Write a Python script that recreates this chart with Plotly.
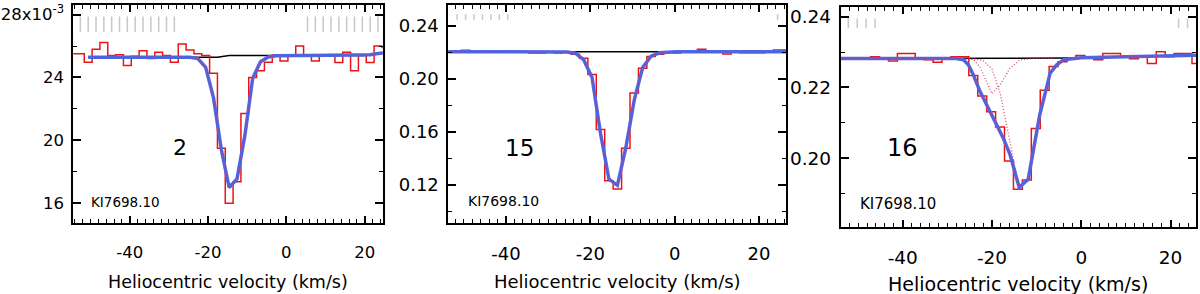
import plotly.graph_objects as go

# ---------------- data ----------------
# Panel 1 (flux in units of 1e-3)
p1_vel = [-54.6, -52.6, -50.6, -48.6, -46.6, -44.6, -42.6, -40.6, -38.6, -36.6,
          -34.6, -32.6, -30.6, -28.6, -26.6, -24.6, -22.6, -20.6, -18.6, -16.6,
          -14.6, -12.6, -10.6, -8.6, -6.6, -4.6, -2.6, -0.6, 1.4, 3.4,
          5.4, 7.4, 9.4, 11.4, 13.4, 15.4, 17.4, 19.4, 21.4, 23.4, 25.4]
p1_flux = [25.5, 25.5, 24.97, 25.8, 26.23, 25.39, 25.45, 24.76, 25.35, 25.7,
           25.2, 25.6, 25.4, 24.97, 26.13, 25.75, 25.5, 25.4, 24.27, 19.5,
           16.0, 17.37, 21.7, 24.0, 24.42, 24.97, 25.45, 25.05, 25.4, 26.0,
           25.4, 25.05, 25.4, 25.4, 24.95, 25.6, 24.42, 25.4, 24.95, 26.0, 25.9]
p1_fit_vel = [-50.6, -48.6, -46.6, -44.6, -42.6, -40.6, -38.6, -36.6, -34.6, -32.6,
              -30.6, -28.6, -26.6, -24.6, -22.6, -20.6, -18.6, -16.6, -14.6, -12.6,
              -10.6, -8.6, -6.6, -4.6, -2.6, -0.6, 1.4, 3.4, 5.4, 7.4,
              9.4, 11.4, 13.4, 15.4, 17.4, 19.4, 21.4, 23.4, 25.4]
p1_fit = [25.28, 25.28, 25.28, 25.28, 25.28, 25.28, 25.28, 25.28, 25.28, 25.28,
          25.28, 25.28, 25.28, 25.28, 25.2, 24.65, 22.7, 19.4, 17.0, 17.55,
          20.3, 23.95, 25.0, 25.3, 25.38, 25.4, 25.4, 25.4, 25.4, 25.4,
          25.4, 25.4, 25.4, 25.4, 25.4, 25.4, 25.45, 25.52, 25.58]
p1_cont_vel = [-50.6, -17.6, -14.6, 19.4, 21.4, 23.4, 25.4]
p1_cont = [25.28, 25.28, 25.4, 25.4, 25.45, 25.52, 25.58]
p1_mask_vel = [-52.6, -50.6, -48.6, -46.6, -44.6, -42.6, -40.6, -38.6, -36.6, -34.6,
               -32.6, -30.6, -28.6, 5.4, 7.4, 9.4, 11.4, 13.4, 15.4, 17.4,
               19.4, 21.4, 23.4]
p1_mask_level = 27.38
p1_yticks = [16, 20, 24, 28]
p1_yticktext = ["16", "20", "24", "28x10<sup>-3</sup>"]

# Panel 2
p2_vel = [-55.6, -53.6, -51.6, -49.6, -47.6, -45.6, -43.6, -41.6, -39.6, -37.6,
          -35.6, -33.6, -31.6, -29.6, -27.6, -25.6, -23.6, -21.6, -19.6, -17.6,
          -15.6, -13.6, -11.6, -9.6, -7.6, -5.6, -3.6, -1.6, 0.4, 2.4,
          4.4, 6.4, 8.4, 10.4, 12.4, 14.4, 16.4, 18.4, 20.4, 22.4,
          24.4, 26.4]
p2_flux = [0.2205, 0.2205, 0.2206, 0.2216, 0.2205, 0.2205, 0.2205, 0.2205, 0.2204, 0.2205,
           0.2204, 0.2196, 0.2196, 0.2204, 0.2196, 0.2203, 0.2185, 0.2155, 0.2033, 0.1619,
           0.1232, 0.1170, 0.1477, 0.1893, 0.2080, 0.2168, 0.2185, 0.2203, 0.2196, 0.2205,
           0.2206, 0.2224, 0.2205, 0.2204, 0.2187, 0.2204, 0.2197, 0.2197, 0.2197, 0.2205,
           0.2218, 0.2218]
p2_fit = [0.2205, 0.2205, 0.2205, 0.2205, 0.2205, 0.2205, 0.2205, 0.2205, 0.2205, 0.2205,
          0.2205, 0.2205, 0.2205, 0.2205, 0.2205, 0.2203, 0.2194, 0.2145, 0.2010, 0.1590,
          0.1245, 0.1198, 0.1480, 0.1840, 0.2085, 0.2172, 0.2197, 0.2204, 0.2205, 0.2205,
          0.2205, 0.2205, 0.2205, 0.2205, 0.2205, 0.2205, 0.2205, 0.2205, 0.2205, 0.2205,
          0.2205, 0.2205]
p2_cont_vel = [-55.6, 26.4]
p2_cont = [0.2205, 0.2205]
p2_mask_vel = [-51.6, -49.6, -47.6, -45.6, -43.6, -41.6, -39.6, 24.4]
p2_mask_level = 0.2467
p2_yticks = [0.12, 0.16, 0.20, 0.24]
p2_yticktext = ["0.12", "0.16", "0.20", "0.24"]

# Panel 3
p3_vel = [-54.2, -52.2, -50.2, -48.2, -46.2, -44.2, -42.2, -40.2, -38.2, -36.2,
          -34.2, -32.2, -30.2, -28.2, -26.2, -24.2, -22.2, -20.2, -18.2, -16.2,
          -14.2, -12.2, -10.2, -8.2, -6.2, -4.2, -2.2, -0.2, 1.8, 3.8,
          5.8, 7.8, 9.8, 11.8, 13.8, 15.8, 17.8, 19.8, 21.8, 23.8, 25.8]
p3_flux = [0.2281, 0.2281, 0.2284, 0.2284, 0.2287, 0.2283, 0.2275, 0.2296, 0.2296, 0.2283,
           0.2278, 0.2271, 0.2283, 0.2287, 0.2287, 0.2234, 0.2176, 0.2131, 0.2088, 0.1992,
           0.1912, 0.1938, 0.2084, 0.2192, 0.2259, 0.2273, 0.2281, 0.2290, 0.2284, 0.2278,
           0.2296, 0.2296, 0.2287, 0.2281, 0.2287, 0.2268, 0.2301, 0.2287, 0.2296, 0.2296,
           0.2268]
p3_fit_vel = [-54.2, -28.0, -26.4, -25.3, -24.2, -22.7, -21.2, -19.0, -17.5, -16.0,
              -14.9, -13.9, -11.9, -10.8, -9.3, -7.8, -7.0, -5.5, -4.0, -2.0,
              0.0, 10.0, 25.8]
p3_fit = [0.2282, 0.2282, 0.2278, 0.2264, 0.2236, 0.2189, 0.2151, 0.2095, 0.2057, 0.2011,
          0.1964, 0.1917, 0.1940, 0.2020, 0.2123, 0.2198, 0.2240, 0.2264, 0.2278, 0.2281,
          0.2284, 0.2287, 0.2291]
p3_compA_vel = [-28.0, -24.2, -22.0, -20.0, -18.2, -17.1, -16.0, -14.9, -13.9, -11.9,
                -10.8, -9.3, -7.8, -7.0, -5.5, -4.0, -2.0]
p3_compA = [0.2282, 0.2281, 0.2276, 0.2252, 0.2185, 0.2120, 0.2048, 0.1973, 0.1917, 0.1940,
            0.2020, 0.2123, 0.2198, 0.2240, 0.2264, 0.2278, 0.2282]
p3_compB_vel = [-28.0, -24.2, -22.7, -21.2, -20.0, -18.2, -16.0, -13.7, -10.8, -6.0]
p3_compB = [0.2282, 0.2279, 0.2258, 0.2215, 0.2182, 0.2207, 0.2254, 0.2278, 0.2282, 0.2282]
p3_cont_vel = [-54.2, -2.2, 25.8]
p3_cont = [0.2282, 0.2283, 0.2291]
p3_mask_vel = [-52.2, -50.2, -48.2, -46.2, 21.8, 23.8]
p3_mask_level = 0.2381
p3_yticks = [0.20, 0.22, 0.24]
p3_yticktext = ["0.20", "0.22", "0.24"]

x_ticks = [-40, -20, 0, 20]
x_ticktext = ["-40", "-20", "0", "20"]
panel_labels = ["2", "15", "16"]
line_label = "KI7698.10"
x_title = "Heliocentric velocity (km/s)"

# ---------------- styling / layout ----------------
FONT = "DejaVu Sans"
RED = "rgb(235,20,20)"
BLUE = "rgb(75,105,230)"
DOTRED = "rgba(210,40,90,0.85)"
GREY = "rgb(200,200,200)"

fig = go.Figure()

panels = [
    dict(vel=p1_vel, flux=p1_flux, fitv=p1_fit_vel, fit=p1_fit, cv=p1_cont_vel, c=p1_cont,
         mv=p1_mask_vel, ml=p1_mask_level, msize=11, comps=[]),
    dict(vel=p2_vel, flux=p2_flux, fitv=p2_vel, fit=p2_fit, cv=p2_cont_vel, c=p2_cont,
         mv=p2_mask_vel, ml=p2_mask_level, msize=4, comps=[]),
    dict(vel=p3_vel, flux=p3_flux, fitv=p3_fit_vel, fit=p3_fit, cv=p3_cont_vel, c=p3_cont,
         mv=p3_mask_vel, ml=p3_mask_level, msize=7,
         comps=[(p3_compA_vel, p3_compA), (p3_compB_vel, p3_compB)]),
]

for i, p in enumerate(panels):
    ax = "" if i == 0 else str(i + 1)
    xa, ya = "x" + ax, "y" + ax
    fig.add_trace(go.Scatter(x=p["mv"], y=[p["ml"]] * len(p["mv"]), mode="markers",
                             marker=dict(symbol="line-ns", size=p["msize"],
                                         line=dict(color=GREY, width=1.5)),
                             xaxis=xa, yaxis=ya, hoverinfo="skip"))
    fig.add_trace(go.Scatter(x=p["cv"], y=p["c"], mode="lines",
                             line=dict(color="black", width=1.5), xaxis=xa, yaxis=ya))
    fig.add_trace(go.Scatter(x=p["vel"], y=p["flux"], mode="lines", line_shape="hvh",
                             line=dict(color=RED, width=1.5), xaxis=xa, yaxis=ya))
    for cvx, cvy in p["comps"]:
        fig.add_trace(go.Scatter(x=cvx, y=cvy, mode="lines",
                                 line=dict(color=DOTRED, width=1.3, dash="1px,2px"),
                                 xaxis=xa, yaxis=ya))
    fig.add_trace(go.Scatter(x=p["fitv"], y=p["fit"], mode="lines",
                             line=dict(color=BLUE, width=3.5), xaxis=xa, yaxis=ya))
    fig.add_trace(go.Scatter(x=p["fitv"], y=p["fit"], mode="lines",
                             line=dict(color=DOTRED, width=1.3, dash="1px,2px"),
                             xaxis=xa, yaxis=ya))

W, H = 1200, 294
xdom = [(73.3, 382.7), (448.3, 786.0), (840.7, 1196.0)]
ydom = [(3, 222.7), (3, 222.7), (5, 226.7)]
xranges = [(-54.4, 24.6), (-53.7, 26.4), (-53.9, 25.7)]
yranges = [(14.73, 28.61), (0.0913, 0.2557), (0.18045, 0.24277)]
yticks = [(p1_yticks, p1_yticktext), (p2_yticks, p2_yticktext), (p3_yticks, p3_yticktext)]
yminor = [2, 0.02, 0.01]
tickfs = [16.5, 18, 18.5]
titlefs = [17.5, 18, 19]
numfs = [22, 23, 24]
kifs = [13.5, 14, 15]
num_pos = [(180, 146.7), (519, 146.7), (902.7, 146.7)]
ki_pos = [(89, 201.7), (466, 200.7), (858.3, 203.3)]
title_y = [281.7, 281.7, 284.0]

layout = dict(width=W, height=H, margin=dict(l=0, r=0, t=0, b=0),
              paper_bgcolor="white", plot_bgcolor="white", showlegend=False,
              font=dict(family=FONT, color="black"))
annotations = []
for i in range(3):
    ax = "" if i == 0 else str(i + 1)
    common = dict(showline=True, linecolor="black", linewidth=1.8, mirror="allticks",
                  ticks="inside", tickwidth=1.5, tickcolor="black", showgrid=False,
                  zeroline=False, fixedrange=True)
    layout["xaxis" + ax] = dict(common, domain=[xdom[i][0] / W, xdom[i][1] / W],
                                range=list(xranges[i]), anchor="y" + ax,
                                tickmode="array", tickvals=x_ticks, ticktext=x_ticktext,
                                ticklen=7,
                                tickfont=dict(size=tickfs[i], family=FONT),
                                ticklabelstandoff=13,
                                minor=dict(ticks="inside", ticklen=4, tickwidth=1.2,
                                           tickcolor="black", tickmode="linear",
                                           tick0=0, dtick=2))
    layout["yaxis" + ax] = dict(common, domain=[1 - ydom[i][1] / H, 1 - ydom[i][0] / H],
                                range=list(yranges[i]), anchor="x" + ax,
                                tickmode="array", tickvals=yticks[i][0],
                                ticktext=yticks[i][1], ticklen=8,
                                tickfont=dict(size=tickfs[i], family=FONT),
                                ticklabelstandoff=4,
                                minor=dict(ticks="inside", ticklen=4, tickwidth=1.2,
                                           tickcolor="black", tickmode="linear",
                                           tick0=0, dtick=yminor[i]))
    cx = (xdom[i][0] + xdom[i][1]) / 2
    annotations.append(dict(text=x_title, xref="paper", yref="paper", x=cx / W,
                            y=1 - title_y[i] / H, xanchor="center", yanchor="middle",
                            showarrow=False, font=dict(size=titlefs[i], family=FONT)))
    annotations.append(dict(text=panel_labels[i], xref="paper", yref="paper",
                            x=num_pos[i][0] / W, y=1 - num_pos[i][1] / H,
                            xanchor="center", yanchor="middle", showarrow=False,
                            font=dict(size=numfs[i], family=FONT)))
    annotations.append(dict(text=line_label, xref="paper", yref="paper",
                            x=ki_pos[i][0] / W, y=1 - ki_pos[i][1] / H,
                            xanchor="left", yanchor="middle", showarrow=False,
                            font=dict(size=kifs[i], family=FONT)))
layout["annotations"] = annotations
fig.update_layout(**layout)
fig.write_html("out.html", config={"displayModeBar": False},
               post_script="document.body.style.margin='0';document.body.style.overflow='hidden';")
